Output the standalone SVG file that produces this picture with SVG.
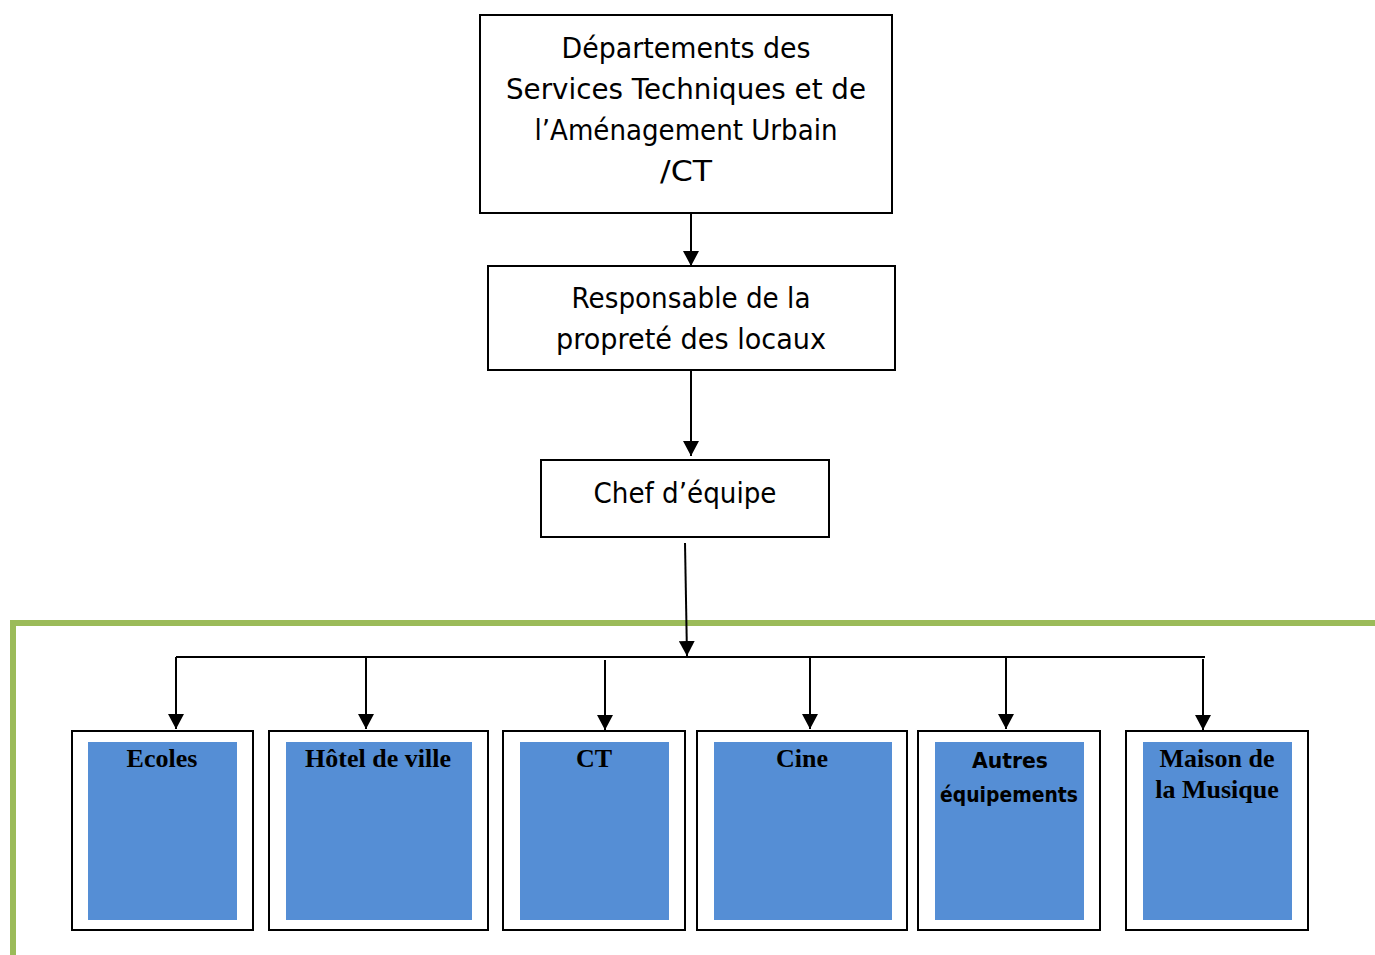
<svg xmlns="http://www.w3.org/2000/svg" width="1375" height="955" viewBox="0 0 1375 955">
<defs>
<marker id="ah" markerUnits="userSpaceOnUse" markerWidth="16" markerHeight="16" refX="15" refY="8" orient="auto">
<path d="M0,0 L15,8 L0,16 z" fill="#000"/>
</marker>
<style>
.box{fill:#fff;stroke:#000;stroke-width:2}
.inner{fill:#558ed5}
.comic{font-family:"Comic Sans MS","DejaVu Sans",sans-serif;font-size:28px;fill:#000}
.comicb{font-family:"Comic Sans MS","DejaVu Sans",sans-serif;font-size:21px;font-weight:bold;fill:#000}
.serif{font-family:"Liberation Serif","Times New Roman",serif;font-size:26px;font-weight:bold;fill:#000}
.conn{stroke:#000;stroke-width:2;fill:none}
.green{stroke:#9bbb59;stroke-width:6;fill:none}
</style>
</defs>
<rect width="1375" height="955" fill="#fff"/>
<path class="green" d="M13,955 V623 H1375"/>
<g id="n1">
<rect class="box" x="480" y="15" width="412" height="198"/>
<text class="comic" x="686" y="58" text-anchor="middle" textLength="249" lengthAdjust="spacingAndGlyphs">Départements des</text>
<text class="comic" x="686" y="99" text-anchor="middle" textLength="360" lengthAdjust="spacingAndGlyphs">Services Techniques et de</text>
<text class="comic" x="686" y="140" text-anchor="middle" textLength="303" lengthAdjust="spacingAndGlyphs">l’Aménagement Urbain</text>
<text class="comic" x="686" y="181" text-anchor="middle" textLength="52" lengthAdjust="spacingAndGlyphs">/CT</text>
</g>
<g id="n2">
<rect class="box" x="488" y="266" width="407" height="104"/>
<text class="comic" x="691" y="308" text-anchor="middle" textLength="239" lengthAdjust="spacingAndGlyphs">Responsable de la</text>
<text class="comic" x="691" y="349" text-anchor="middle" textLength="270" lengthAdjust="spacingAndGlyphs">propreté des locaux</text>
</g>
<g id="n3">
<rect class="box" x="541" y="460" width="288" height="77"/>
<text class="comic" x="685" y="503" text-anchor="middle" textLength="183" lengthAdjust="spacingAndGlyphs">Chef d’équipe</text>
</g>
<g id="n4">
<rect class="box" x="72" y="731" width="181" height="199"/>
<rect class="inner" x="88" y="742" width="149" height="178"/>
<text class="serif" x="162" y="767" text-anchor="middle">Ecoles</text>
</g>
<g id="n5">
<rect class="box" x="269" y="731" width="219" height="199"/>
<rect class="inner" x="286" y="742" width="186" height="178"/>
<text class="serif" x="378" y="767" text-anchor="middle">Hôtel de ville</text>
</g>
<g id="n6">
<rect class="box" x="503" y="731" width="182" height="199"/>
<rect class="inner" x="520" y="742" width="149" height="178"/>
<text class="serif" x="594" y="767" text-anchor="middle">CT</text>
</g>
<g id="n7">
<rect class="box" x="697" y="731" width="210" height="199"/>
<rect class="inner" x="714" y="742" width="178" height="178"/>
<text class="serif" x="802" y="767" text-anchor="middle">Cine</text>
</g>
<g id="n8">
<rect class="box" x="918" y="731" width="182" height="199"/>
<rect class="inner" x="935" y="742" width="149" height="178"/>
<text class="comicb" x="1010" y="768" text-anchor="middle" textLength="76" lengthAdjust="spacingAndGlyphs">Autres</text>
<text class="comicb" x="1009" y="802" text-anchor="middle" textLength="138" lengthAdjust="spacingAndGlyphs">équipements</text>
</g>
<g id="n9">
<rect class="box" x="1126" y="731" width="182" height="199"/>
<rect class="inner" x="1143" y="742" width="149" height="178"/>
<text class="serif" x="1217" y="767" text-anchor="middle">Maison de</text>
<text class="serif" x="1217" y="798" text-anchor="middle">la Musique</text>
</g>
<g id="connectors">
<line class="conn" x1="691" y1="213" x2="691" y2="266" marker-end="url(#ah)"/>
<line class="conn" x1="691" y1="370" x2="691" y2="456" marker-end="url(#ah)"/>
<line class="conn" x1="685" y1="543" x2="687" y2="656" marker-end="url(#ah)"/>
<line class="conn" x1="176" y1="657" x2="1205" y2="657"/>
<line class="conn" x1="176" y1="657" x2="176" y2="729" marker-end="url(#ah)"/>
<line class="conn" x1="366" y1="657" x2="366" y2="729" marker-end="url(#ah)"/>
<line class="conn" x1="605" y1="660" x2="605" y2="730" marker-end="url(#ah)"/>
<line class="conn" x1="810" y1="657" x2="810" y2="729" marker-end="url(#ah)"/>
<line class="conn" x1="1006" y1="657" x2="1006" y2="729" marker-end="url(#ah)"/>
<line class="conn" x1="1203" y1="659" x2="1203" y2="730" marker-end="url(#ah)"/>
</g>
</svg>
